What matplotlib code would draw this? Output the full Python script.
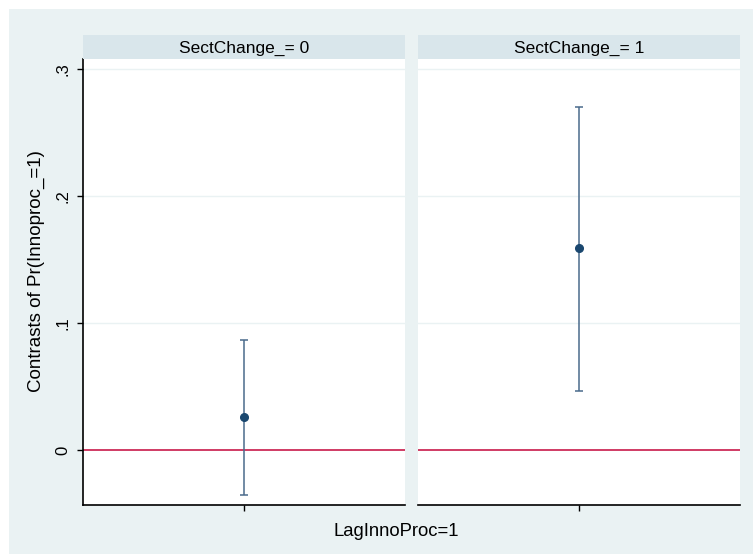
import matplotlib
matplotlib.use("Agg")
import matplotlib.pyplot as plt
from matplotlib.patches import Rectangle

plt.rcParams['font.family'] = ['Liberation Sans', 'DejaVu Sans']

# Données
panels = ['SectChange_= 0', 'SectChange_= 1']
x_label = 'LagInnoProc=1'
estimate = [0.026, 0.159]
ci_low = [-0.0355, 0.0465]
ci_high = [0.0865, 0.270]
y_ticks = [0, 0.1, 0.2, 0.3]
y_ticklabels = ['0', '.1', '.2', '.3']

W, H = 753, 554
fig = plt.figure(figsize=(W / 100, H / 100), dpi=100, facecolor='white')

# Fond gris-bleu façon Stata
fig.patches.append(Rectangle((9 / W, 0), 1 - 9 / W, 1 - 9 / H,
                             transform=fig.transFigure, facecolor='#eaf2f3',
                             edgecolor='none', zorder=-10))

lefts = [83, 418]
pw = 322
top, bottom = 59, 505
strip_top = 35

for i, name in enumerate(panels):
    ax = fig.add_axes([lefts[i] / W, (H - bottom) / H, pw / W, (bottom - top) / H])
    ax.set_facecolor('white')
    ax.set_xlim(0.5, 1.5)
    ax.set_ylim(-0.0433, 0.308)

    for t in y_ticks[1:]:
        ax.axhline(t, color='#eaf2f3', lw=1, zorder=0)
    ax.axhline(0, color='#c4073a', lw=1.1, zorder=1)

    ax.errorbar([1], [estimate[i]],
                yerr=[[estimate[i] - ci_low[i]], [ci_high[i] - estimate[i]]],
                fmt='none', ecolor='#4a6b8c', elinewidth=1.1, capsize=3,
                capthick=1.1, zorder=2)
    ax.plot([1], [estimate[i]], 'o', color='#1a476f', markersize=5.5, zorder=3)

    for s in ['top', 'right']:
        ax.spines[s].set_visible(False)
    ax.spines['bottom'].set_color('black')
    ax.spines['bottom'].set_linewidth(1.2)
    ax.set_xticks([1])
    ax.set_xticklabels([''])
    ax.tick_params(axis='x', length=4, width=1, color='black')

    if i == 0:
        ax.spines['left'].set_color('black')
        ax.spines['left'].set_linewidth(1.2)
        ax.set_yticks(y_ticks)
        ax.set_yticklabels(y_ticklabels, rotation=90, va='center', fontsize=12)
        ax.tick_params(axis='y', length=4, width=1, color='black', pad=5)
        ax.set_ylabel('Contrasts of Pr(Innoproc_=1)', fontsize=13.5)
        ax.yaxis.set_label_coords(-0.118, 0.525)
    else:
        ax.spines['left'].set_visible(False)
        ax.set_yticks([])

    # Bandeau du panneau
    sax = fig.add_axes([lefts[i] / W, (H - top) / H, pw / W, (top - strip_top) / H])
    sax.set_facecolor('#d9e6eb')
    sax.set_xticks([])
    sax.set_yticks([])
    for s in sax.spines.values():
        s.set_visible(False)
    sax.text(0.5, 0.45, name, ha='center', va='center', fontsize=12.5,
             transform=sax.transAxes)

fig.text(396 / W, (H - 531) / H, x_label, ha='center', va='center', fontsize=13.3)

fig.savefig('out.png', dpi=100, facecolor='white')
